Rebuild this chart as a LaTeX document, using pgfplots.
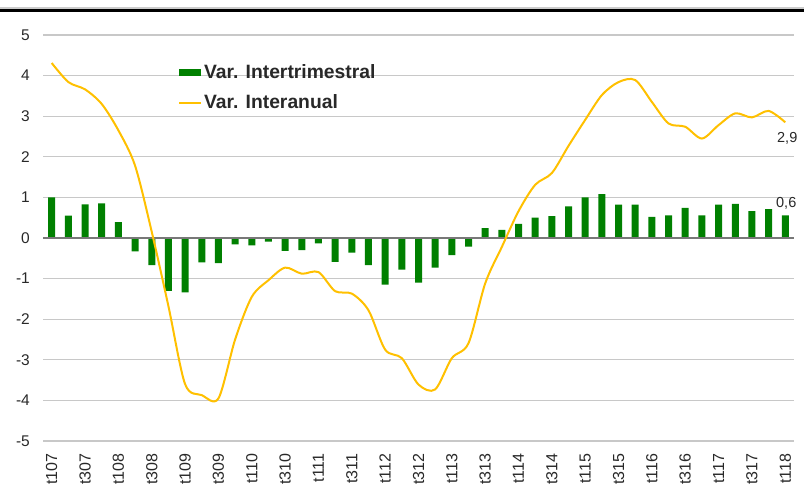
\documentclass[border=0pt]{standalone}
\usepackage{pgfplots}
\pgfplotsset{compat=1.18}
\usepackage{fontspec}
\setmainfont{Liberation Sans}
\definecolor{barg}{RGB}{0,128,0}
\definecolor{lineo}{RGB}{255,192,0}
\definecolor{gridc}{RGB}{200,200,200}
\definecolor{zeroc}{RGB}{120,120,120}
\definecolor{txt}{RGB}{40,40,40}
\begin{document}
\begin{tikzpicture}
\path[use as bounding box] (0pt,0pt) rectangle (804pt,503pt);
\fill[gray!40] (0pt,494.3pt) rectangle (804pt,495.7pt);
\fill[black] (0pt,491pt) rectangle (804pt,494pt);
\begin{axis}[
  at={(43.4pt,62pt)}, anchor=south west, scale only axis,
  width=750.2pt, height=406pt,
  xmin=-0.5, xmax=44.5, ymin=-5, ymax=5,
  axis line style={draw=none}, major tick length=0pt,
  ytick={-5,-4,-3,-2,-1,0,1,2,3,4,5},
  yticklabels={-5,-4,-3,-2,-1,0,1,2,3,4,5},
  ymajorgrids, grid style={gridc, line width=1.3pt},
  xtick={0,2,...,44},
  xticklabels={t107,t307,t108,t308,t109,t309,t110,t310,t111,t311,t112,t312,t113,t313,t114,t314,t115,t315,t116,t316,t117,t317,t118},
  xticklabel style={rotate=90, anchor=east, font=\fontsize{16}{17}\selectfont, text=txt, xshift=-9pt},
  yticklabel style={font=\fontsize{15.5}{16}\selectfont, text=txt, xshift=-10pt},
  clip=false,
  legend style={at={(0.1794,0.933)}, anchor=north west, draw=none, fill=none,
    font=\fontsize{19.3}{20}\selectfont\bfseries, text=txt, inner sep=0pt,
    row sep=11pt, cells={anchor=west}},
]
\addplot[ybar, bar width=7pt, fill=barg, draw=none,
  legend image code/.code={\fill[barg] (0pt,-3.5pt) rectangle (22pt,3.5pt);}]
  coordinates {
(0,1.00) (1,0.55) (2,0.83) (3,0.85) (4,0.39) (5,-0.33) (6,-0.67) (7,-1.30)
(8,-1.34) (9,-0.60) (10,-0.62) (11,-0.16) (12,-0.18) (13,-0.09) (14,-0.32)
(15,-0.30) (16,-0.13) (17,-0.59) (18,-0.36) (19,-0.67) (20,-1.15) (21,-0.78)
(22,-1.10) (23,-0.73) (24,-0.42) (25,-0.21) (26,0.24) (27,0.20) (28,0.35)
(29,0.50) (30,0.54) (31,0.78) (32,1.00) (33,1.08) (34,0.82) (35,0.82)
(36,0.52) (37,0.56) (38,0.74) (39,0.56) (40,0.82) (41,0.84) (42,0.66)
(43,0.71) (44,0.56)};
\addlegendentry{Var. Intertrimestral}
\draw[zeroc, line width=2.2pt] (axis cs:-0.5,0) -- (axis cs:44.5,0);
\addplot[lineo, line width=2pt, smooth, tension=0.5, mark=none,
  legend image code/.code={\draw[lineo, line width=2pt] (0pt,0pt) -- (22pt,0pt);}]
  coordinates {
(0,4.31) (1,3.84) (2,3.66) (3,3.30) (4,2.65) (5,1.78) (6,0.15) (7,-1.68)
(8,-3.60) (9,-3.87) (10,-3.95) (11,-2.50) (12,-1.45) (13,-1.04) (14,-0.73)
(15,-0.88) (16,-0.84) (17,-1.31) (18,-1.37) (19,-1.78) (20,-2.75) (21,-2.96)
(22,-3.61) (23,-3.73) (24,-2.96) (25,-2.59) (26,-1.12) (27,-0.22) (28,0.66)
(29,1.31) (30,1.60) (31,2.27) (32,2.91) (33,3.52) (34,3.84) (35,3.89)
(36,3.35) (37,2.82) (38,2.74) (39,2.45) (40,2.78) (41,3.07) (42,2.97)
(43,3.13) (44,2.85)};
\addlegendentry{Var. Interanual}
\node[anchor=south, font=\fontsize{14.5}{15}\selectfont, text=txt, inner sep=0pt, xshift=1pt, yshift=6pt] at (axis cs:44,0.56) {0,6};
\node[anchor=north, font=\fontsize{14.5}{15}\selectfont, text=txt, inner sep=0pt, xshift=2pt, yshift=-10pt] at (axis cs:44,2.85) {2,9};
\end{axis}
\end{tikzpicture}
\end{document}
